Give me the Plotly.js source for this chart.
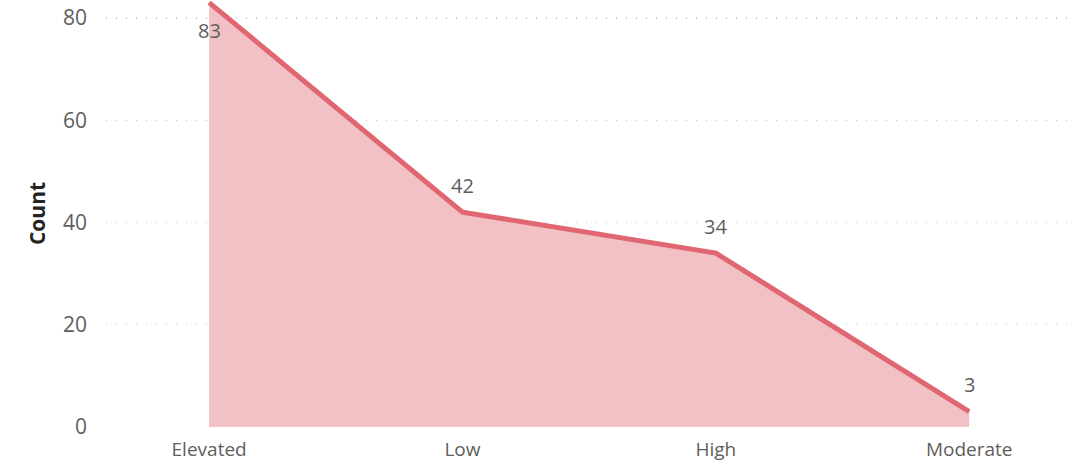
<!DOCTYPE html>
<html><head><meta charset="utf-8">
<script src="https://cdn.plot.ly/plotly-3.0.1.min.js"></script>
<style>html,body{margin:0;padding:0;background:#fff}#chart{width:1087px;height:464px}</style>
</head><body><div id="chart"></div>
<script>
const categories = ["Elevated", "Low", "High", "Moderate"];
const counts = [83, 42, 34, 3];
const labelBelow = [true, false, false, false];
const yTicks = [0, 20, 40, 60, 80];

const font = '"Segoe UI", "Open Sans", "Noto Sans", sans-serif';
const annotations = categories.map((c, i) => ({
  x: c, y: counts[i], xref: 'x', yref: 'y', text: String(counts[i]),
  showarrow: false, yshift: labelBelow[i] ? -28 : 27, cliponaxis: false,
  font: {family: font, size: 20, color: '#605e5c'}
}));
Plotly.newPlot('chart', [{
  type: 'scatter', mode: 'lines',
  x: categories, y: counts,
  line: {color: '#e06672', width: 5},
  fill: 'tozeroy', fillcolor: 'rgba(241,193,198,1)',
  hoverinfo: 'x+y', cliponaxis: true
}], {
  width: 1087, height: 464,
  margin: {l: 106, r: 19, t: 0, b: 37},
  paper_bgcolor: '#fff', plot_bgcolor: '#fff',
  showlegend: false,
  annotations: annotations,
  xaxis: {type: 'category', range: [-0.407, 3.39], showgrid: false, zeroline: false, showline: false,
    tickfont: {family: font, size: 19, color: '#605e5c'}, ticks: '', ticklabelstandoff: 9},
  yaxis: {range: [0, 83.5], tickvals: yTicks, showgrid: true, gridcolor: '#c8c6c4', griddash: '1px,9px', gridwidth: 1.3,
    zeroline: false, showline: false, ticks: '', ticklabelstandoff: 18,
    tickfont: {family: font, size: 21, color: '#605e5c'},
    title: {text: '<b>Count</b>', font: {family: font, size: 21, color: '#252423'}, standoff: 11}}
}, {displayModeBar: false, staticPlot: true});
</script></body></html>
